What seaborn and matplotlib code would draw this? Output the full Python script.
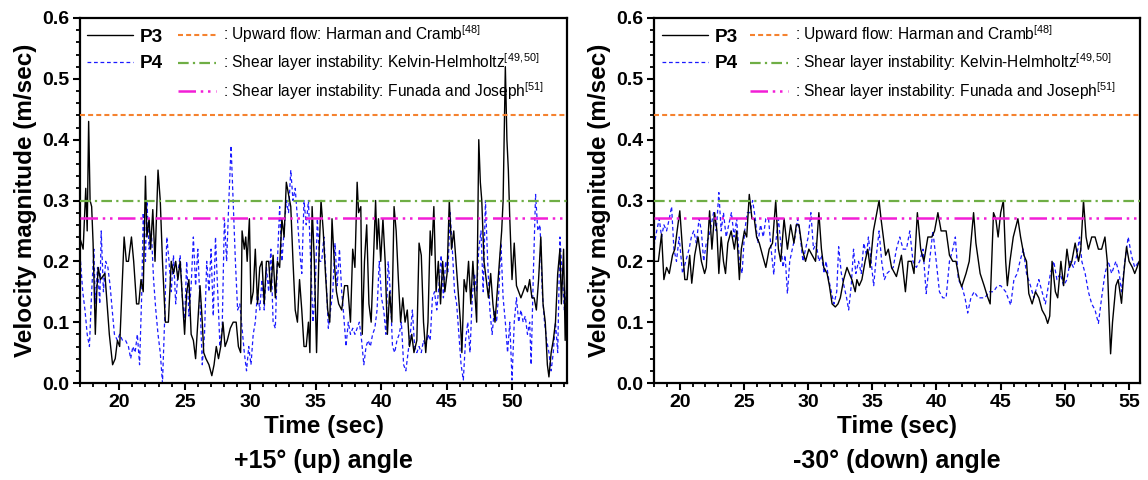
import matplotlib
matplotlib.use("Agg")
import matplotlib.pyplot as plt
import seaborn as sns
import pandas as pd
from matplotlib.lines import Line2D
from matplotlib.ticker import MultipleLocator, FormatStrFormatter

# ---------------- data ----------------
# +15 deg (up) angle, probe P3
up_p3_t = [17.04, 17.24, 17.44, 17.55, 17.66, 17.77, 17.89, 18.00, 18.17, 18.28,
           18.39, 18.56, 18.73, 18.90, 19.07, 19.24, 19.49, 19.69, 19.86, 20.03,
           20.20, 20.37, 20.54, 20.70, 20.93, 21.10, 21.32, 21.49, 21.66, 21.83,
           22.00, 22.11, 22.28, 22.39, 22.56, 22.73, 22.96, 23.13, 23.30, 23.52,
           23.75, 23.97, 24.14, 24.31, 24.48, 24.65, 24.82, 24.99, 25.15, 25.32,
           25.49, 25.66, 25.83, 26.00, 26.17, 26.34, 26.45, 26.62, 26.85, 27.07,
           27.24, 27.41, 27.58, 27.75, 27.92, 28.08, 28.25, 28.48, 28.70, 28.93,
           29.10, 29.27, 29.38, 29.55, 29.66, 29.77, 29.94, 30.06, 30.23, 30.39,
           30.56, 30.73, 30.90, 31.07, 31.24, 31.41, 31.58, 31.75, 31.92, 32.08,
           32.25, 32.42, 32.59, 32.76, 32.93, 33.10, 33.27, 33.44, 33.61, 33.77,
           33.94, 34.11, 34.28, 34.45, 34.56, 34.73, 34.90, 35.07, 35.24, 35.41,
           35.58, 35.75, 35.92, 36.08, 36.25, 36.42, 36.59, 36.76, 36.99, 37.21,
           37.44, 37.66, 37.83, 38.00, 38.17, 38.28, 38.45, 38.56, 38.73, 38.90,
           39.07, 39.24, 39.41, 39.58, 39.69, 39.80, 39.97, 40.14, 40.31, 40.48,
           40.65, 40.82, 40.99, 41.15, 41.32, 41.49, 41.66, 41.83, 42.00, 42.17,
           42.34, 42.51, 42.73, 42.90, 43.07, 43.24, 43.41, 43.58, 43.75, 43.86,
           44.03, 44.20, 44.37, 44.54, 44.70, 44.87, 45.04, 45.21, 45.38, 45.55,
           45.72, 45.89, 46.06, 46.17, 46.34, 46.51, 46.68, 46.85, 47.01, 47.18,
           47.30, 47.46, 47.58, 47.69, 47.86, 48.03, 48.20, 48.37, 48.54, 48.70,
           48.87, 49.04, 49.21, 49.32, 49.49, 49.61, 49.72, 49.83, 50.00, 50.17,
           50.34, 50.51, 50.68, 50.85, 51.01, 51.18, 51.35, 51.52, 51.69, 51.86,
           52.03, 52.20, 52.37, 52.54, 52.70, 52.82, 52.99, 53.15, 53.32, 53.49,
           53.66, 53.77, 53.94, 54.06, 54.20]
up_p3_v = [0.235, 0.22, 0.32, 0.25, 0.43, 0.30, 0.29, 0.23, 0.08, 0.15,
           0.19, 0.17, 0.175, 0.18, 0.13, 0.08, 0.03, 0.04, 0.07, 0.06,
           0.15, 0.24, 0.20, 0.20, 0.24, 0.20, 0.13, 0.13, 0.17, 0.15,
           0.34, 0.24, 0.27, 0.22, 0.285, 0.20, 0.35, 0.30, 0.20, 0.10,
           0.10, 0.20, 0.18, 0.20, 0.17, 0.20, 0.14, 0.08, 0.15, 0.17,
           0.08, 0.07, 0.04, 0.10, 0.16, 0.10, 0.05, 0.04, 0.03, 0.012,
           0.03, 0.06, 0.04, 0.06, 0.10, 0.06, 0.07, 0.09, 0.10, 0.10,
           0.06, 0.05, 0.25, 0.22, 0.24, 0.20, 0.27, 0.13, 0.15, 0.22,
           0.13, 0.19, 0.20, 0.13, 0.20, 0.20, 0.15, 0.21, 0.14, 0.20,
           0.19, 0.27, 0.24, 0.33, 0.31, 0.29, 0.20, 0.12, 0.10, 0.17,
           0.12, 0.06, 0.06, 0.10, 0.05, 0.29, 0.20, 0.05, 0.20, 0.30,
           0.25, 0.18, 0.12, 0.10, 0.27, 0.20, 0.15, 0.13, 0.12, 0.16,
           0.16, 0.10, 0.22, 0.19, 0.33, 0.28, 0.29, 0.08, 0.20, 0.26,
           0.13, 0.10, 0.20, 0.30, 0.22, 0.27, 0.20, 0.27, 0.20, 0.08,
           0.15, 0.10, 0.29, 0.25, 0.17, 0.10, 0.14, 0.10, 0.12, 0.06,
           0.08, 0.05, 0.07, 0.23, 0.21, 0.10, 0.05, 0.10, 0.25, 0.21,
           0.29, 0.15, 0.20, 0.13, 0.20, 0.15, 0.18, 0.30, 0.22, 0.25,
           0.20, 0.15, 0.10, 0.05, 0.17, 0.15, 0.20, 0.13, 0.20, 0.14,
           0.10, 0.40, 0.33, 0.30, 0.20, 0.17, 0.14, 0.18, 0.13, 0.10,
           0.15, 0.20, 0.25, 0.30, 0.52, 0.40, 0.35, 0.27, 0.17, 0.23,
           0.16, 0.15, 0.14, 0.15, 0.16, 0.15, 0.17, 0.14, 0.14, 0.12,
           0.17, 0.24, 0.13, 0.10, 0.03, 0.01, 0.05, 0.07, 0.10, 0.18,
           0.22, 0.13, 0.22, 0.07, 0.20]

# +15 deg (up) angle, probe P4
up_p4_t = [17.04, 17.21, 17.38, 17.55, 17.72, 17.89, 18.06, 18.17, 18.34, 18.51,
           18.62, 18.79, 18.96, 19.13, 19.30, 19.46, 19.63, 19.86, 20.03, 20.25,
           20.48, 20.70, 20.87, 21.04, 21.21, 21.38, 21.55, 21.72, 21.83, 22.00,
           22.11, 22.28, 22.45, 22.62, 22.79, 22.96, 23.13, 23.30, 23.46, 23.63,
           23.80, 23.97, 24.14, 24.31, 24.48, 24.65, 24.82, 24.99, 25.15, 25.32,
           25.49, 25.66, 25.83, 26.00, 26.17, 26.34, 26.51, 26.68, 26.85, 27.01,
           27.18, 27.35, 27.52, 27.69, 27.86, 28.03, 28.20, 28.37, 28.54, 28.70,
           28.87, 29.04, 29.21, 29.38, 29.55, 29.72, 29.89, 30.06, 30.23, 30.39,
           30.56, 30.73, 30.90, 31.07, 31.24, 31.41, 31.58, 31.75, 31.92, 32.08,
           32.25, 32.42, 32.59, 32.76, 32.93, 33.10, 33.27, 33.44, 33.61, 33.77,
           33.94, 34.11, 34.28, 34.45, 34.62, 34.79, 34.96, 35.13, 35.30, 35.46,
           35.63, 35.80, 35.97, 36.14, 36.31, 36.48, 36.65, 36.82, 36.99, 37.15,
           37.32, 37.49, 37.66, 37.83, 38.00, 38.17, 38.34, 38.51, 38.68, 38.85,
           39.01, 39.18, 39.35, 39.52, 39.69, 39.86, 40.03, 40.20, 40.37, 40.54,
           40.70, 40.87, 41.04, 41.21, 41.38, 41.55, 41.72, 41.89, 42.06, 42.23,
           42.39, 42.56, 42.73, 42.90, 43.07, 43.24, 43.41, 43.58, 43.75, 43.92,
           44.08, 44.25, 44.42, 44.59, 44.76, 44.93, 45.10, 45.27, 45.44, 45.61,
           45.77, 45.94, 46.11, 46.28, 46.45, 46.62, 46.79, 46.96, 47.13, 47.30,
           47.46, 47.63, 47.80, 47.97, 48.14, 48.31, 48.48, 48.65, 48.82, 48.99,
           49.15, 49.32, 49.49, 49.66, 49.83, 50.00, 50.17, 50.34, 50.51, 50.68,
           50.85, 51.01, 51.18, 51.35, 51.46, 51.63, 51.80, 51.97, 52.14, 52.31,
           52.48, 52.65, 52.82, 52.99, 53.15, 53.32, 53.49, 53.66, 53.83, 54.00,
           54.20]
up_p4_v = [0.20, 0.15, 0.12, 0.08, 0.06, 0.15, 0.22, 0.13, 0.19, 0.13,
           0.25, 0.15, 0.20, 0.19, 0.16, 0.12, 0.08, 0.07, 0.08, 0.07,
           0.07, 0.06, 0.04, 0.06, 0.05, 0.08, 0.03, 0.15, 0.28, 0.20,
           0.30, 0.22, 0.25, 0.17, 0.12, 0.08, 0.05, 0.00, 0.10, 0.24,
           0.20, 0.15, 0.21, 0.13, 0.18, 0.21, 0.14, 0.10, 0.20, 0.11,
           0.16, 0.24, 0.16, 0.22, 0.13, 0.03, 0.08, 0.20, 0.15, 0.22,
           0.11, 0.24, 0.15, 0.06, 0.09, 0.27, 0.20, 0.30, 0.39, 0.30,
           0.20, 0.12, 0.13, 0.09, 0.05, 0.02, 0.06, 0.03, 0.08, 0.10,
           0.15, 0.12, 0.17, 0.12, 0.19, 0.15, 0.22, 0.10, 0.09, 0.20,
           0.29, 0.20, 0.25, 0.30, 0.28, 0.35, 0.30, 0.32, 0.27, 0.22,
           0.18, 0.30, 0.26, 0.30, 0.20, 0.10, 0.15, 0.27, 0.20, 0.20,
           0.24, 0.17, 0.09, 0.12, 0.15, 0.23, 0.16, 0.22, 0.15, 0.11,
           0.06, 0.10, 0.08, 0.09, 0.08, 0.09, 0.10, 0.07, 0.03, 0.06,
           0.07, 0.06, 0.08, 0.09, 0.12, 0.20, 0.14, 0.12, 0.08, 0.20,
           0.15, 0.06, 0.05, 0.07, 0.08, 0.10, 0.03, 0.02, 0.05, 0.08,
           0.12, 0.06, 0.05, 0.06, 0.05, 0.07, 0.06, 0.08, 0.07, 0.14,
           0.15, 0.12, 0.16, 0.21, 0.14, 0.20, 0.18, 0.28, 0.22, 0.15,
           0.13, 0.08, 0.03, 0.005, 0.07, 0.10, 0.05, 0.14, 0.18, 0.15,
           0.22, 0.25, 0.15, 0.30, 0.20, 0.12, 0.08, 0.12, 0.10, 0.15,
           0.23, 0.14, 0.10, 0.05, 0.10, 0.005, 0.10, 0.14, 0.10, 0.12,
           0.10, 0.11, 0.08, 0.10, 0.03, 0.18, 0.31, 0.25, 0.26, 0.15,
           0.10, 0.07, 0.05, 0.02, 0.05, 0.10, 0.05, 0.24, 0.18, 0.12,
           0.16]

# -30 deg (down) angle, probe P3
down_p3_t = [18.00, 18.34, 18.59, 18.77, 18.98, 19.19, 19.44, 19.62, 19.80, 20.01,
             20.22, 20.40, 20.58, 20.78, 20.94, 21.17, 21.43, 21.69, 21.94, 22.07,
             22.33, 22.51, 22.72, 22.90, 23.05, 23.23, 23.41, 23.57, 23.75, 24.01,
             24.26, 24.44, 24.65, 24.80, 25.04, 25.22, 25.42, 25.63, 25.81, 25.99,
             26.20, 26.45, 26.71, 26.97, 27.23, 27.48, 27.69, 27.87, 28.13, 28.39,
             28.64, 28.90, 29.08, 29.29, 29.55, 29.80, 30.06, 30.32, 30.58, 30.84,
             31.04, 31.22, 31.48, 31.66, 31.87, 32.12, 32.33, 32.51, 32.77, 33.03,
             33.21, 33.41, 33.67, 33.80, 33.98, 34.19, 34.44, 34.65, 34.83, 35.09,
             35.35, 35.53, 35.68, 35.86, 36.04, 36.25, 36.50, 36.88, 37.27, 37.58,
             37.79, 38.04, 38.25, 38.51, 38.77, 39.02, 39.33, 39.64, 39.85, 40.11,
             40.36, 40.75, 41.01, 41.27, 41.52, 41.78, 41.96, 42.30, 42.55, 42.89,
             43.07, 43.40, 43.71, 43.97, 44.18, 44.44, 44.62, 44.80, 45.00, 45.21,
             45.39, 45.52, 45.72, 45.98, 46.34, 46.55, 46.81, 47.01, 47.19, 47.45,
             47.71, 47.97, 48.22, 48.48, 48.66, 48.82, 49.00, 49.26, 49.44, 49.69,
             49.90, 50.16, 50.36, 50.54, 50.80, 51.06, 51.24, 51.45, 51.65, 51.83,
             52.09, 52.35, 52.61, 52.86, 53.12, 53.30, 53.46, 53.56, 53.71, 53.97,
             54.15, 54.41, 54.59, 54.80, 55.00, 55.26, 55.44, 55.62, 55.78]
down_p3_v = [0.20, 0.20, 0.245, 0.17, 0.19, 0.18, 0.21, 0.22, 0.25, 0.283,
             0.22, 0.17, 0.17, 0.21, 0.164, 0.21, 0.24, 0.20, 0.18, 0.19,
             0.283, 0.22, 0.28, 0.25, 0.18, 0.24, 0.20, 0.18, 0.23, 0.25,
             0.22, 0.25, 0.17, 0.22, 0.25, 0.24, 0.31, 0.27, 0.27, 0.24,
             0.23, 0.21, 0.19, 0.22, 0.23, 0.30, 0.22, 0.20, 0.27, 0.22,
             0.26, 0.23, 0.26, 0.26, 0.22, 0.20, 0.22, 0.21, 0.20, 0.28,
             0.22, 0.19, 0.18, 0.16, 0.13, 0.125, 0.13, 0.14, 0.17, 0.19,
             0.18, 0.17, 0.15, 0.17, 0.16, 0.17, 0.20, 0.22, 0.19, 0.25,
             0.28, 0.30, 0.27, 0.24, 0.21, 0.22, 0.19, 0.175, 0.21, 0.15,
             0.20, 0.20, 0.18, 0.28, 0.22, 0.20, 0.24, 0.24, 0.25, 0.28,
             0.25, 0.25, 0.21, 0.20, 0.20, 0.17, 0.158, 0.18, 0.20, 0.28,
             0.23, 0.18, 0.16, 0.142, 0.13, 0.28, 0.27, 0.24, 0.28, 0.30,
             0.20, 0.16, 0.20, 0.24, 0.27, 0.24, 0.21, 0.20, 0.147, 0.13,
             0.15, 0.14, 0.12, 0.11, 0.098, 0.11, 0.20, 0.15, 0.14, 0.20,
             0.16, 0.22, 0.19, 0.20, 0.23, 0.20, 0.22, 0.30, 0.24, 0.22,
             0.24, 0.24, 0.22, 0.22, 0.24, 0.20, 0.103, 0.048, 0.10, 0.16,
             0.17, 0.131, 0.18, 0.224, 0.20, 0.19, 0.18, 0.19, 0.20]

# -30 deg (down) angle, probe P4
down_p4_t = [18.00, 18.21, 18.41, 18.59, 18.77, 18.98, 19.19, 19.37, 19.55, 19.75,
             19.96, 20.22, 20.47, 20.73, 20.91, 21.09, 21.30, 21.51, 21.69, 21.87,
             22.07, 22.28, 22.46, 22.64, 22.85, 23.05, 23.23, 23.41, 23.62, 23.82,
             24.03, 24.24, 24.44, 24.65, 24.86, 25.06, 25.27, 25.47, 25.68, 25.89,
             26.09, 26.30, 26.51, 26.71, 26.92, 27.12, 27.33, 27.48, 27.69, 27.87,
             28.05, 28.21, 28.39, 28.57, 28.77, 28.98, 29.19, 29.39, 29.60, 29.80,
             30.01, 30.22, 30.42, 30.63, 30.84, 31.04, 31.25, 31.40, 31.61, 31.81,
             32.02, 32.23, 32.38, 32.59, 32.79, 33.00, 33.16, 33.36, 33.54, 33.72,
             33.93, 34.14, 34.34, 34.55, 34.70, 34.91, 35.11, 35.32, 35.53, 35.73,
             35.94, 36.14, 36.63, 36.88, 37.14, 37.40, 37.66, 37.92, 38.17, 38.43,
             38.69, 38.95, 39.20, 39.46, 39.72, 39.98, 40.23, 40.49, 40.75, 41.01,
             41.27, 41.47, 41.70, 41.96, 42.22, 42.43, 42.68, 42.94, 43.25, 43.51,
             43.77, 44.10, 44.44, 44.75, 45.00, 45.39, 45.78, 46.03, 46.29, 46.50,
             46.76, 47.01, 47.32, 47.58, 47.97, 48.22, 48.48, 48.87, 49.13, 49.38,
             49.64, 49.90, 50.16, 50.41, 50.67, 50.93, 51.14, 51.32, 51.58, 51.83,
             52.09, 52.35, 52.61, 52.86, 53.12, 53.38, 53.64, 53.97, 54.23, 54.41,
             54.67, 54.93, 55.18, 55.44, 55.78]
down_p4_v = [0.225, 0.25, 0.27, 0.24, 0.26, 0.25, 0.27, 0.29, 0.22, 0.20,
             0.24, 0.18, 0.20, 0.22, 0.24, 0.25, 0.23, 0.27, 0.25, 0.20,
             0.23, 0.24, 0.26, 0.28, 0.25, 0.313, 0.25, 0.28, 0.24, 0.26,
             0.28, 0.24, 0.27, 0.20, 0.18, 0.25, 0.28, 0.28, 0.30, 0.27,
             0.23, 0.26, 0.24, 0.27, 0.27, 0.22, 0.178, 0.23, 0.27, 0.23,
             0.19, 0.21, 0.147, 0.20, 0.22, 0.24, 0.27, 0.24, 0.20, 0.22,
             0.24, 0.28, 0.22, 0.23, 0.20, 0.21, 0.18, 0.20, 0.17, 0.15,
             0.13, 0.15, 0.224, 0.18, 0.16, 0.14, 0.12, 0.16, 0.22, 0.18,
             0.20, 0.18, 0.23, 0.21, 0.24, 0.20, 0.16, 0.21, 0.25, 0.20,
             0.17, 0.18, 0.19, 0.22, 0.24, 0.22, 0.22, 0.25, 0.20, 0.19,
             0.20, 0.22, 0.147, 0.20, 0.25, 0.20, 0.15, 0.14, 0.14, 0.20,
             0.22, 0.24, 0.17, 0.16, 0.14, 0.115, 0.14, 0.15, 0.14, 0.14,
             0.14, 0.15, 0.15, 0.16, 0.16, 0.15, 0.128, 0.17, 0.18, 0.20,
             0.22, 0.18, 0.16, 0.14, 0.17, 0.15, 0.13, 0.18, 0.20, 0.17,
             0.18, 0.16, 0.17, 0.20, 0.19, 0.21, 0.24, 0.20, 0.18, 0.15,
             0.13, 0.12, 0.098, 0.14, 0.18, 0.20, 0.18, 0.20, 0.18, 0.15,
             0.20, 0.24, 0.21, 0.19, 0.20]

# threshold lines
ref_values = [0.44, 0.30, 0.272]
ref_labels = [r": Upward flow: Harman and Cramb$^{[48]}$",
              r": Shear layer instability: Kelvin-Helmholtz$^{[49,50]}$",
              r": Shear layer instability: Funada and Joseph$^{[51]}$"]
series_labels = ["P3", "P4"]
panel_titles = ["+15\u00b0 (up) angle", "-30\u00b0 (down) angle"]
x_label = "Time (sec)"
y_label = "Velocity magnitude (m/sec)"
up_xlim = (17.0, 54.2)
down_xlim = (18.0, 55.85)

# ---------------- style ----------------
sns.set_theme(style="ticks")
plt.rcParams['font.family'] = ['Liberation Sans', 'DejaVu Sans']
plt.rcParams['mathtext.fontset'] = 'custom'
plt.rcParams['mathtext.rm'] = 'Liberation Sans'
plt.rcParams['mathtext.it'] = 'Liberation Sans:italic'
plt.rcParams['mathtext.bf'] = 'Liberation Sans:bold'
plt.rcParams['text.color'] = 'black'
plt.rcParams['axes.labelcolor'] = 'black'
plt.rcParams['xtick.color'] = 'black'
plt.rcParams['ytick.color'] = 'black'

ref_colors = ['#f5822f', '#6fae45', '#f21ed6']
ref_styles = [(0, (2.4, 1.5)), (0, (4.8, 1.9, 1.0, 1.9)), (0, (7.0, 1.9, 1.0, 1.9, 1.0, 2.2))]
ref_lw = [1.5, 1.6, 1.8]
p3_color = 'black'
p4_color = '#1a1aff'
p4_style = (0, (3.0, 2.2))

fig = plt.figure(figsize=(11.48, 4.8), dpi=100)
W, H = 1148, 480
ax1 = fig.add_axes([80 / W, 97 / H, 487 / W, 365 / H])
ax2 = fig.add_axes([654 / W, 97 / H, 486 / W, 365 / H])

panels = [
    (ax1, up_p3_t, up_p3_v, up_p4_t, up_p4_v, up_xlim, [20, 25, 30, 35, 40, 45, 50],
     panel_titles[0], 0.0144, 0.201, -0.088),
    (ax2, down_p3_t, down_p3_v, down_p4_t, down_p4_v, down_xlim, [20, 25, 30, 35, 40, 45, 50, 55],
     panel_titles[1], 0.0165, 0.1975, -0.088),
]

for ax, t3, v3, t4, v4, xlim, xt, title, lg1x, lg2x, ylx in panels:
    df3 = pd.DataFrame({"t": t3, "v": v3})
    df4 = pd.DataFrame({"t": t4, "v": v4})
    sns.lineplot(data=df3, x="t", y="v", ax=ax, color=p3_color, lw=1.0,
                 estimator=None, sort=False, legend=False, zorder=3)
    sns.lineplot(data=df4, x="t", y="v", ax=ax, color=p4_color, lw=0.9,
                 linestyle=p4_style, estimator=None, sort=False, legend=False, zorder=2)
    for val, col, ls, lw in zip(ref_values, ref_colors, ref_styles, ref_lw):
        ax.axhline(val, color=col, linestyle=ls, lw=lw, zorder=4)

    ax.set_xlim(*xlim)
    ax.set_ylim(0.0, 0.6)
    ax.set_xticks(xt)
    ax.xaxis.set_minor_locator(MultipleLocator(1))
    ax.yaxis.set_major_locator(MultipleLocator(0.1))
    ax.yaxis.set_minor_locator(MultipleLocator(0.02))
    ax.yaxis.set_major_formatter(FormatStrFormatter('%.1f'))
    ax.tick_params(which='major', direction='out', length=5, width=1.5,
                   labelsize=14, pad=3, colors='black', bottom=True, left=True,
                   top=False, right=False)
    ax.tick_params(which='minor', direction='out', length=3, width=1.3,
                   colors='black', bottom=True, left=True, top=False, right=False)
    for lab in ax.get_xticklabels() + ax.get_yticklabels():
        lab.set_fontweight('bold')
    for s in ax.spines.values():
        s.set_visible(True)
        s.set_linewidth(1.6)
        s.set_color('black')

    ax.set_xlabel(x_label, fontsize=17.5, fontweight='bold', color='black')
    ax.xaxis.set_label_coords(0.5, -0.088)
    ax.set_ylabel(y_label, fontsize=17.5, fontweight='bold', color='black')
    ax.yaxis.set_label_coords(ylx, 0.5)
    ax.text(0.5, -0.215, title, transform=ax.transAxes, ha='center', va='center',
            fontsize=18, fontweight='bold', color='black')

    h1 = [Line2D([], [], color=p3_color, lw=1.0),
          Line2D([], [], color=p4_color, lw=0.9, linestyle=p4_style)]
    leg1 = ax.legend(h1, series_labels, loc='upper left', bbox_to_anchor=(lg1x, 0.972),
                     frameon=False, borderaxespad=0, borderpad=0, handlelength=2.4,
                     handletextpad=0.37, labelspacing=0.5,
                     prop={'weight': 'bold', 'size': 13.7})
    ax.add_artist(leg1)
    h2 = [Line2D([], [], color=c, linestyle=ls, lw=lw)
          for c, ls, lw in zip(ref_colors, ref_styles, ref_lw)]
    ax.legend(h2, ref_labels, loc='upper left', bbox_to_anchor=(lg2x, 0.985),
              frameon=False, borderaxespad=0, borderpad=0, handlelength=2.45,
              handletextpad=0.45, labelspacing=0.42, prop={'size': 11.2})

fig.savefig("out.png", dpi=100)
